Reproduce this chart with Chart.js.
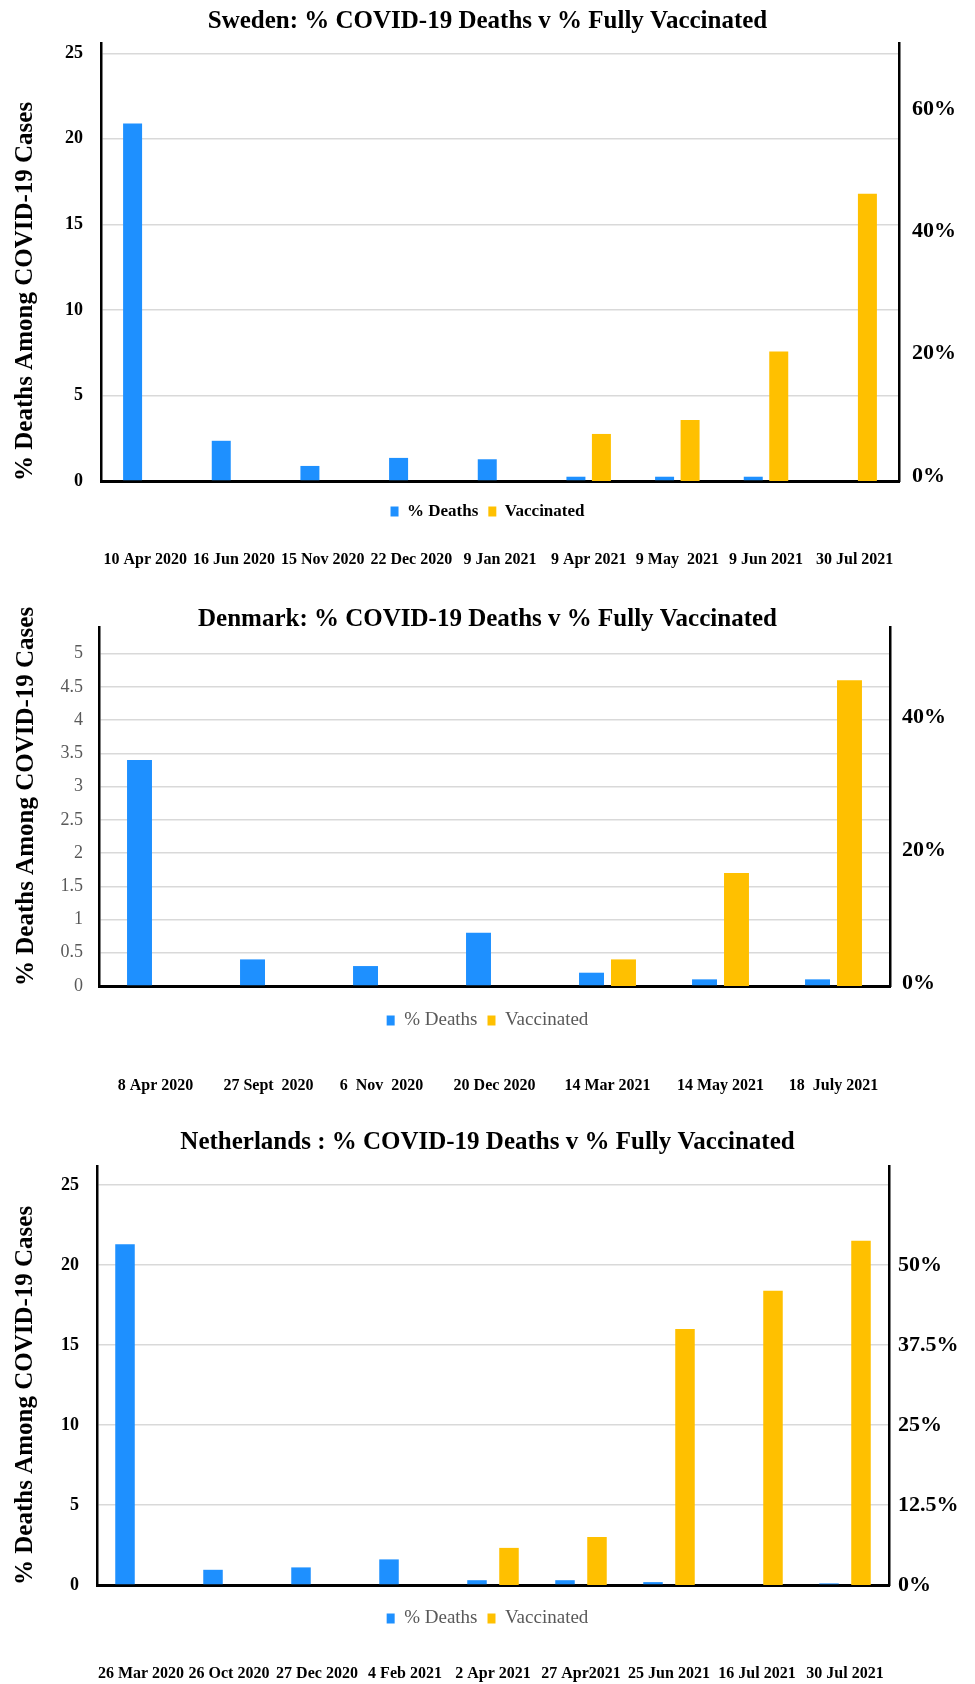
<!DOCTYPE html>
<html>
<head>
<meta charset="utf-8">
<script src="https://cdn.jsdelivr.net/npm/chart.js@4.4.1/dist/chart.umd.min.js"></script>
<style>
  body { margin: 0; background: #fff; width: 975px; height: 1684px; position: relative; overflow: hidden; }
  canvas { position: absolute; left: 0; }
</style>
</head>
<body>
<canvas id="chartSweden"  width="975" height="570" style="top:0px"></canvas>
<canvas id="chartDenmark" width="975" height="506" style="top:590px"></canvas>
<canvas id="chartNether"  width="975" height="584" style="top:1100px"></canvas>
<script>
const SERIF = "'Liberation Serif', 'Times New Roman', serif";
const BLUE  = '#1E90FF';
const GOLD  = '#FFC000';
const GRID  = '#d9d9d9';
const YTITLE = '% Deaths Among COVID-19 Cases';

// ── Sweden ──
const seDates  = ['10 Apr 2020','16 Jun 2020','15 Nov 2020','22 Dec 2020','9 Jan 2021','9 Apr 2021','9 May  2021','9 Jun 2021','30 Jul 2021'];
const seDeaths = [20.9, 2.35, 0.88, 1.35, 1.27, 0.25, 0.25, 0.25, 0];
const seVacc   = [0, 0, 0, 0, 0, 7.7, 10.0, 21.2, 47.0];

// ── Denmark ──
const dkDates  = ['8 Apr 2020','27 Sept  2020','6  Nov  2020','20 Dec 2020','14 Mar 2021','14 May 2021','18  July 2021'];
const dkDeaths = [3.4, 0.4, 0.3, 0.8, 0.2, 0.1, 0.1];
const dkVacc   = [0, 0, 0, 0, 4, 17, 46];

// ── Netherlands ──
const nlDates  = ['26 Mar 2020','26 Oct 2020','27 Dec 2020','4 Feb 2021','2 Apr 2021','27 Apr2021','25 Jun 2021','16 Jul 2021','30 Jul 2021'];
const nlDeaths = [21.3, 0.95, 1.1, 1.6, 0.3, 0.3, 0.18, 0, 0.1];
const nlVacc   = [0, 0, 0, 0, 5.8, 7.5, 40, 46, 53.8];

const onStep = (v, s) => Math.abs(v / s - Math.round(v / s)) < 1e-6;

function buildChart(id, c) {
    return new Chart(document.getElementById(id), {
        type: 'bar',
        data: {
            labels: c.dates,
            datasets: [
                { label: '% Deaths', data: c.deaths, backgroundColor: BLUE, borderWidth: 0, yAxisID: 'y',
                  categoryPercentage: c.catPct, barPercentage: c.barPct },
                { label: 'Vaccinated', data: c.vacc, backgroundColor: GOLD, borderWidth: 0, yAxisID: 'y1',
                  categoryPercentage: c.catPct, barPercentage: c.barPct }
            ]
        },
        options: {
            responsive: false,
            animation: false,
            layout: { padding: 0 },
            plugins: {
                title: {
                    display: true, text: c.title, color: '#000',
                    font: { family: SERIF, size: 25, weight: 'bold', lineHeight: 1.2 },
                    padding: { top: c.titleTop, bottom: c.titleBottom }
                },
                legend: {
                    position: 'bottom',
                    labels: {
                        boxWidth: 8, boxHeight: 10, padding: 10, color: c.legendColor,
                        font: { family: SERIF, size: c.legendSize, weight: c.legendWeight }
                    }
                },
                tooltip: { enabled: false }
            },
            scales: {
                x: {
                    offset: true,
                    grid: { display: false },
                    ticks: { display: false },
                    border: { color: '#000', width: 3 },
                    afterFit: s => { s.height = c.xGap; }
                },
                x2: {
                    type: 'category', position: 'bottom', weight: 2000, offset: true,
                    grid: { display: false, drawTicks: false },
                    border: { display: false },
                    ticks: { padding: c.datePad, color: '#000', autoSkip: false, maxRotation: 0,
                             font: { family: SERIF, size: 16, weight: 'bold' } },
                    afterFit: s => { s.height = c.datePad + 20; }
                },
                y: {
                    position: 'left', min: 0, max: c.leftMax,
                    grid: { color: GRID, drawTicks: false, lineWidth: 1.5 },
                    border: { color: '#000', width: 2.5 },
                    ticks: {
                        stepSize: c.leftStep, padding: c.leftPad, color: c.leftColor, includeBounds: false,
                        font: { family: SERIF, size: c.leftSize, weight: c.leftWeight },
                        callback: v => onStep(v, c.leftStep) ? String(v) : null
                    },
                    title: { display: true, text: YTITLE, color: '#000', align: 'start',
                             font: { family: SERIF, size: 25, weight: 'bold' },
                             padding: { top: c.yTitlePad, bottom: 0 } },
                    afterFit: s => { s.width = c.left; }
                },
                y1: {
                    position: 'right', min: 0, max: c.rightMax,
                    grid: { display: false, drawTicks: false },
                    border: { color: '#000', width: 2.5 },
                    ticks: {
                        stepSize: c.rightStep, padding: c.rightPad, color: '#000', labelOffset: c.rightShift,
                        includeBounds: false,
                        font: { family: SERIF, size: 22, weight: 'bold' },
                        callback: v => (onStep(v, c.rightStep) && v <= c.rightTop) ? v + '%' : null
                    },
                    afterFit: s => { s.width = 975 - c.right; }
                }
            }
        }
    });
}

// ── Sweden ──
buildChart('chartSweden', {
    title: 'Sweden: % COVID-19 Deaths v % Fully Vaccinated',
    dates: seDates, deaths: seDeaths, vacc: seVacc,
    catPct: 0.575, barPct: 0.745,
    titleTop: 7, titleBottom: 6,
    left: 101, right: 899, yTitlePad: 11,
    leftMax: 25.6, leftStep: 5, leftPad: 18, leftColor: '#000', leftSize: 18, leftWeight: 'bold',
    rightMax: 25.6 * 70 / 25, rightStep: 20, rightTop: 60, rightPad: 13, rightShift: -5,
    legendColor: '#000', legendSize: 17, legendWeight: 'bold',
    xGap: 12, datePad: 20
});

// ── Denmark ──
buildChart('chartDenmark', {
    title: 'Denmark: % COVID-19 Deaths v % Fully Vaccinated',
    dates: dkDates, deaths: dkDeaths, vacc: dkVacc,
    catPct: 0.566, barPct: 0.78,
    titleTop: 15, titleBottom: -8,
    left: 99, right: 890, yTitlePad: 12,
    leftMax: 5.4, leftStep: 0.5, leftPad: 16, leftColor: '#595959', leftSize: 18, leftWeight: 'normal',
    rightMax: 54, rightStep: 20, rightTop: 40, rightPad: 12, rightShift: -3,
    legendColor: '#595959', legendSize: 19, legendWeight: 'normal',
    xGap: 15, datePad: 36
});

// ── Netherlands ──
buildChart('chartNether', {
    title: 'Netherlands : % COVID-19 Deaths v % Fully Vaccinated',
    dates: nlDates, deaths: nlDeaths, vacc: nlVacc,
    catPct: 0.727, barPct: 0.61,
    titleTop: 28, titleBottom: 8,
    left: 97, right: 889, yTitlePad: 11,
    leftMax: 26.19, leftStep: 5, leftPad: 18, leftColor: '#000', leftSize: 18, leftWeight: 'bold',
    rightMax: 26.19 * 2.5, rightStep: 12.5, rightTop: 50, rightPad: 9, rightShift: 0,
    legendColor: '#595959', legendSize: 19, legendWeight: 'normal',
    xGap: 14, datePad: 26
});
</script>
</body>
</html>
